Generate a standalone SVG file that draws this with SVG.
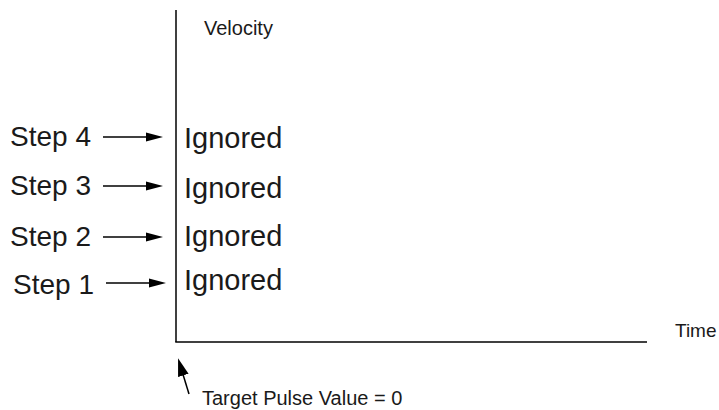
<svg xmlns="http://www.w3.org/2000/svg" width="719" height="410" viewBox="0 0 719 410">
  <style>
    .axis { stroke: #000; stroke-width: 1.5; fill: none; }
    .conn { stroke: #000; stroke-width: 1.5; fill: none; }
    .big { font-family: "Liberation Sans", Arial, sans-serif; font-size: 28px; fill: #1a1a1a; }
    .ign { font-size: 29px; }
    .small { font-family: "Liberation Sans", Arial, sans-serif; font-size: 20px; fill: #1a1a1a; }
  </style>
  <defs>
    <marker id="head" markerUnits="userSpaceOnUse" markerWidth="17" markerHeight="10" refX="12" refY="5" orient="auto">
      <path d="M0,0.5 L17,5 L0,9.5 z" fill="#000"/>
    </marker>
    <marker id="headBig" markerUnits="userSpaceOnUse" markerWidth="18" markerHeight="12" refX="13" refY="6" orient="auto">
      <path d="M0,0.5 L18,6 L0,11.5 z" fill="#000"/>
    </marker>
  </defs>

  <!-- chart axes -->
  <g id="axes">
    <line class="axis" x1="176" y1="10" x2="176" y2="342"/>
    <line class="axis" x1="175.25" y1="342" x2="647" y2="342"/>
    <text class="small" x="204" y="35">Velocity</text>
    <text class="small" x="675" y="337" style="font-size:19px">Time</text>
  </g>

  <!-- step labels -->
  <g id="step4"><text class="big" x="10" y="146">Step 4</text></g>
  <g id="step3"><text class="big" x="10" y="195">Step 3</text></g>
  <g id="step2"><text class="big" x="10" y="246">Step 2</text></g>
  <g id="step1"><text class="big" x="13" y="294">Step 1</text></g>

  <!-- ignored markers on the velocity axis -->
  <g id="ignored4"><text class="big ign" x="184" y="148">Ignored</text></g>
  <g id="ignored3"><text class="big ign" x="184" y="198">Ignored</text></g>
  <g id="ignored2"><text class="big ign" x="184" y="246">Ignored</text></g>
  <g id="ignored1"><text class="big ign" x="184" y="290">Ignored</text></g>

  <!-- target annotation -->
  <g id="target">
    <text class="small" x="202" y="405">Target Pulse Value = 0</text>
  </g>

  <!-- connectors -->
  <g id="connectors">
    <line class="conn" x1="103" y1="137" x2="158" y2="137" marker-end="url(#head)"/>
    <line class="conn" x1="103" y1="186" x2="158" y2="186" marker-end="url(#head)"/>
    <line class="conn" x1="103" y1="237" x2="158" y2="237" marker-end="url(#head)"/>
    <line class="conn" x1="106" y1="283" x2="161" y2="283" marker-end="url(#head)"/>
    <line class="conn" x1="189" y1="394" x2="179.5" y2="363" marker-end="url(#headBig)"/>
  </g>
</svg>
